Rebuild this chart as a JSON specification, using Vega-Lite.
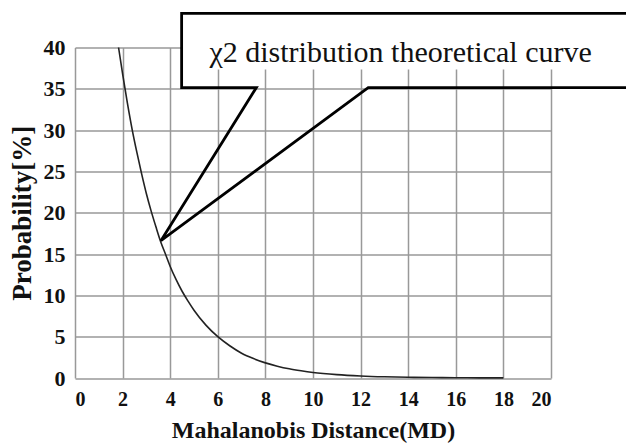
{
  "$schema": "https://vega.github.io/schema/vega-lite/v6.json",
  "width": 476,
  "height": 330.5,
  "autosize": {"type": "none"},
  "padding": {"left": 75, "top": 47.5, "right": 75, "bottom": 68},
  "background": "white",
  "config": {
    "view": {"stroke": null},
    "text": {"font": "Times New Roman"},
    "axis": {
      "labelFont": "Liberation Serif",
      "labelFontWeight": "bold",
      "labelColor": "#111",
      "titleFont": "Liberation Serif",
      "titleFontWeight": "bold",
      "titleColor": "#111",
      "grid": true,
      "gridColor": "#999",
      "gridWidth": 1.5,
      "domain": false,
      "ticks": false
    }
  },
  "datasets": {
    "curve": [
      {"md": 1.83, "p": 40.0},
      {"md": 2.0, "p": 36.8},
      {"md": 2.2, "p": 33.3},
      {"md": 2.4, "p": 30.1},
      {"md": 2.6, "p": 27.3},
      {"md": 2.8, "p": 24.7},
      {"md": 3.0, "p": 22.3},
      {"md": 3.2, "p": 20.2},
      {"md": 3.4, "p": 18.3},
      {"md": 3.6, "p": 16.5},
      {"md": 3.8, "p": 15.0},
      {"md": 4.0, "p": 13.5},
      {"md": 4.25, "p": 11.9},
      {"md": 4.5, "p": 10.5},
      {"md": 4.75, "p": 9.3},
      {"md": 5.0, "p": 8.2},
      {"md": 5.5, "p": 6.4},
      {"md": 6.0, "p": 5.0},
      {"md": 6.5, "p": 3.9},
      {"md": 7.0, "p": 3.0},
      {"md": 7.5, "p": 2.35},
      {"md": 8.0, "p": 1.83},
      {"md": 8.5, "p": 1.43},
      {"md": 9.0, "p": 1.11},
      {"md": 9.5, "p": 0.87},
      {"md": 10, "p": 0.67},
      {"md": 11, "p": 0.41},
      {"md": 12, "p": 0.25},
      {"md": 13, "p": 0.15},
      {"md": 14, "p": 0.09},
      {"md": 15, "p": 0.055},
      {"md": 16, "p": 0.034},
      {"md": 17, "p": 0.02},
      {"md": 18, "p": 0.012}
    ],
    "boxfill": [
      {"x1": 4.5, "x2": 23.5, "y1": 37.35, "y2": 44.1}
    ],
    "callout": [
      {"o": 1, "x": 23.5, "y": 44.14},
      {"o": 2, "x": 4.48, "y": 44.14},
      {"o": 3, "x": 4.48, "y": 35.15},
      {"o": 4, "x": 7.62, "y": 35.15},
      {"o": 5, "x": 3.61, "y": 16.62},
      {"o": 6, "x": 12.32, "y": 35.15},
      {"o": 7, "x": 23.5, "y": 35.15}
    ],
    "label": [
      {"x": 13.68, "y": 38.2, "text": "χ2 distribution theoretical curve"}
    ]
  },
  "layer": [
    {
      "data": {"name": "curve"},
      "mark": {"type": "line", "color": "#222", "strokeWidth": 1.6, "interpolate": "monotone"},
      "encoding": {
        "x": {
          "field": "md", "type": "quantitative",
          "scale": {"domain": [0, 20], "nice": false},
          "axis": {"values": [0, 2, 4, 6, 8, 10, 12, 14, 16, 18, 20], "title": "Mahalanobis Distance(MD)", "titleFontSize": 24, "labelFontSize": 20, "labelPadding": 11, "titlePadding": 9}
        },
        "y": {
          "field": "p", "type": "quantitative",
          "scale": {"domain": [0, 40], "nice": false},
          "axis": {"values": [0, 5, 10, 15, 20, 25, 30, 35, 40], "title": "Probability[%]", "titleFontSize": 27, "labelFontSize": 22, "labelPadding": 10, "titlePadding": 7}
        }
      }
    },
    {
      "data": {"name": "boxfill"},
      "mark": {"type": "rect", "fill": "white", "stroke": null},
      "encoding": {
        "x": {"field": "x1", "type": "quantitative"},
        "x2": {"field": "x2"},
        "y": {"field": "y1", "type": "quantitative"},
        "y2": {"field": "y2"}
      }
    },
    {
      "data": {"name": "callout"},
      "mark": {"type": "line", "color": "#000", "strokeWidth": 2.8, "strokeJoin": "miter"},
      "encoding": {
        "x": {"field": "x", "type": "quantitative"},
        "y": {"field": "y", "type": "quantitative"},
        "order": {"field": "o", "type": "quantitative"}
      }
    },
    {
      "data": {"name": "label"},
      "mark": {"type": "text", "font": "Times New Roman", "fontStyle": "normal", "fontWeight": "normal", "fontSize": 30, "color": "#111", "align": "center", "baseline": "alphabetic"},
      "encoding": {
        "x": {"field": "x", "type": "quantitative"},
        "y": {"field": "y", "type": "quantitative"},
        "text": {"field": "text"}
      }
    }
  ]
}
